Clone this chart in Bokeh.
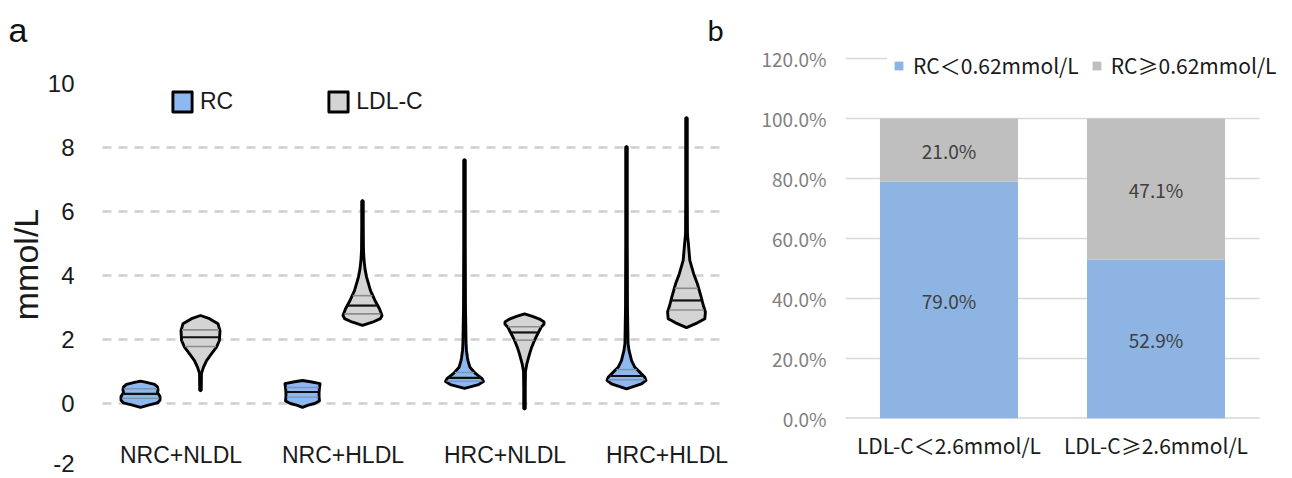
import numpy as np
from bokeh.plotting import figure
from bokeh.models import (Range1d, FixedTicker, Legend, LegendItem,
                          ColumnDataSource, PrintfTickFormatter, CustomJSTickFormatter)
from bokeh.layouts import row
from bokeh.embed import file_html
from bokeh.resources import INLINE
from bokeh.core.properties import value

# ---------------- data: panel a (violin profiles, mmol/L) ----------------
groups = ["NRC+NLDL", "NRC+HLDL", "HRC+NLDL", "HRC+HLDL"]
series = ["RC", "LDL-C"]

# relative density (violin half-width, 1 = widest) at each level
rc_nrc_nldl_y = [-0.12, -0.05, 0.02, 0.10, 0.22, 0.30, 0.34, 0.42, 0.52, 0.60, 0.66, 0.70]
rc_nrc_nldl_d = [0, .41, .87, 1, 1, .92, .87, .90, .87, .72, .31, 0]
rc_nrc_hldl_y = [-0.12, -0.06, 0.00, 0.08, 0.20, 0.35, 0.50, 0.62, 0.68, 0.72]
rc_nrc_hldl_d = [0, .26, .62, .87, .85, .85, .87, .90, .41, 0]
rc_hrc_nldl_y = [0.47, 0.59, 0.69, 0.78, 0.94, 1.13, 1.34, 1.44, 1.66, 1.88, 3.0, 5.0, 7.60, 7.62]
rc_hrc_nldl_d = [0, .72, .97, .90, .56, .28, .18, .15, .10, .08, .05, .04, .04, 0]
rc_hrc_hldl_y = [0.46, 0.61, 0.72, 0.82, 0.98, 1.13, 1.34, 1.66, 1.88, 3.0, 5.0, 8.01, 8.03]
rc_hrc_hldl_d = [0, .77, 1.0, .94, .68, .43, .26, .13, .08, .05, .04, .04, 0]

ldl_nrc_nldl_y = [0.40, 0.42, 0.94, 1.13, 1.34, 1.55, 1.76, 1.97, 2.28, 2.49, 2.65, 2.75]
ldl_nrc_nldl_d = [0, .04, .05, .15, .31, .56, .82, .97, 1.0, .90, .46, 0]
ldl_nrc_hldl_y = [2.44, 2.54, 2.65, 2.75, 2.96, 3.22, 3.53, 3.95, 4.20, 4.47, 4.80, 5.50, 6.32, 6.34]
ldl_nrc_hldl_d = [0, .51, .92, 1, .87, .64, .41, .21, .13, .08, .05, .04, .04, 0]
ldl_hrc_nldl_y = [-0.17, -0.15, 0.5, 1.0, 1.24, 1.55, 1.76, 1.97, 2.18, 2.39, 2.48, 2.55, 2.64, 2.72, 2.80]
ldl_hrc_nldl_d = [0, .04, .04, .05, .12, .26, .37, .51, .68, .86, 1, 1, .77, .41, 0]
ldl_hrc_hldl_y = [2.37, 2.52, 2.65, 2.86, 3.07, 3.33, 3.74, 4.05, 4.47, 4.90, 5.30, 6.50, 8.91, 8.93]
ldl_hrc_hldl_d = [0, .56, .94, .97, .86, .75, .56, .37, .17, .11, .05, .04, .04, 0]

# quartiles [Q1, median, Q3]
rc_quart = [[0.16, 0.30, 0.46], [0.20, 0.36, 0.50], [0.70, 0.80, 0.97], [0.74, 0.86, 1.06]]
ldl_quart = [[1.78, 2.07, 2.30], [2.80, 3.06, 3.37], [1.98, 2.22, 2.40], [2.92, 3.22, 3.60]]

y_ticks_a = [-2, 0, 2, 4, 6, 8, 10]
grid_a = [0, 2, 4, 6, 8]

# ---------------- data: panel b ----------------
ldl_cats = ["LDL-C\uff1c2.6mmol/L", "LDL-C\u22652.6mmol/L"]
rc_low_pct = [79.0, 52.9]
rc_high_pct = [21.0, 47.1]
legend_b = ["RC\uff1c0.62mmol/L", "RC\u22650.62mmol/L"]
y_ticks_b = [0, 20, 40, 60, 80, 100, 120]

# ---------------- styles ----------------
RC_FILL = "#8DB8F0"
LDL_FILL = "#D4D4D4"
BLUE_B = "#8DB4E2"
GRAY_B = "#BFBFBF"
FONT = "Liberation Sans"
CJK = "Noto Sans CJK SC"
PX = 162.0                  # pixels per group on panel a
PY = 32.0                   # pixels per mmol/L on panel a
HALF = 19.5 / PX            # max half-width of a violin (data units)
OFF = 30.0 / PX             # offset of the two violins from group centre
BX = 207.0                  # pixels per category on panel b
BY = 3.0                    # pixels per percent on panel b
EDGE_NUDGE = 0.14           # lift of the bottom tick label so it stays inside the page

rc_profiles = [(rc_nrc_nldl_y, rc_nrc_nldl_d), (rc_nrc_hldl_y, rc_nrc_hldl_d),
               (rc_hrc_nldl_y, rc_hrc_nldl_d), (rc_hrc_hldl_y, rc_hrc_hldl_d)]
ldl_profiles = [(ldl_nrc_nldl_y, ldl_nrc_nldl_d), (ldl_nrc_hldl_y, ldl_nrc_hldl_d),
                (ldl_hrc_nldl_y, ldl_hrc_nldl_d), (ldl_hrc_hldl_y, ldl_hrc_hldl_d)]


def violin(center, ys, ds):
    ys = np.asarray(ys, float)
    w = np.asarray(ds, float) * HALF
    xs = np.concatenate([center + w, (center - w)[::-1]])
    yy = np.concatenate([ys, ys[::-1]])
    return list(xs), list(yy)


def quart_segments(center, ys, ds, qs):
    x0, x1, yv = [], [], []
    for q in qs:
        w = np.interp(q, ys, ds) * HALF * 0.96
        x0.append(center - w); x1.append(center + w); yv.append(q)
    return x0, x1, yv


# ---------------- panel a ----------------
A_W, A_LEFT, A_TOP, H = 730, 100, 50, 478
A_GRID_END = 720
p1 = figure(width=A_W, height=H, output_backend="svg", toolbar_location=None,
            title="a", frame_align=False,
            x_range=Range1d((A_LEFT - 170) / PX, (A_W - 170) / PX),
            y_range=Range1d((403 - H) / PY, (403 - A_TOP) / PY),
            min_border_left=A_LEFT, min_border_right=0, min_border_top=A_TOP,
            min_border_bottom=0, x_axis_location=None)
p1.title.align = "left"
p1.title.offset = 8 - A_LEFT
p1.title.text_font = FONT
p1.title.text_font_size = "34px"
p1.title.text_font_style = "normal"
p1.title.text_color = "#111111"
p1.title.standoff = 4
p1.outline_line_color = None
p1.xgrid.visible = False
p1.ygrid.visible = False
# dashed horizontal gridlines
p1.segment(x0=[(A_LEFT + 2 - 170) / PX] * len(grid_a), y0=grid_a,
           x1=[(A_GRID_END - 170) / PX] * len(grid_a), y1=grid_a,
           line_color="#CFCFCF", line_width=2.5, line_dash="9 7")

tick_pos = [t + EDGE_NUDGE if t == min(y_ticks_a) else t for t in y_ticks_a]
ax = p1.yaxis[0]
ax.ticker = FixedTicker(ticks=tick_pos)
ax.major_label_overrides = {tp: str(t) for tp, t in zip(tick_pos, y_ticks_a)}
ax.axis_line_color = None
ax.major_tick_line_color = None
ax.minor_tick_line_color = None
ax.major_label_text_font = FONT
ax.major_label_text_font_size = "24px"
ax.major_label_text_color = "#1a1a1a"
ax.major_label_standoff = 20
ax.axis_label = "mmol/L"
ax.axis_label_text_font = FONT
ax.axis_label_text_font_size = "34px"
ax.axis_label_text_font_style = "normal"
ax.axis_label_text_color = "#1a1a1a"
ax.axis_label_standoff = 0

rc_xs, rc_ys, ldl_xs, ldl_ys = [], [], [], []
med_x0, med_x1, med_y = [], [], []
rq_x0, rq_x1, rq_y = [], [], []
lq_x0, lq_x1, lq_y = [], [], []
for i in range(len(groups)):
    ys, ds = rc_profiles[i]
    xs, yy = violin(i - OFF, ys, ds)
    rc_xs.append(xs); rc_ys.append(yy)
    a0, a1, av = quart_segments(i - OFF, ys, ds, rc_quart[i])
    rq_x0 += [a0[0], a0[2]]; rq_x1 += [a1[0], a1[2]]; rq_y += [av[0], av[2]]
    med_x0.append(a0[1]); med_x1.append(a1[1]); med_y.append(av[1])

    ys, ds = ldl_profiles[i]
    xs, yy = violin(i + OFF, ys, ds)
    ldl_xs.append(xs); ldl_ys.append(yy)
    a0, a1, av = quart_segments(i + OFF, ys, ds, ldl_quart[i])
    lq_x0 += [a0[0], a0[2]]; lq_x1 += [a1[0], a1[2]]; lq_y += [av[0], av[2]]
    med_x0.append(a0[1]); med_x1.append(a1[1]); med_y.append(av[1])

r_rc = p1.patches(rc_xs, rc_ys, fill_color=RC_FILL, line_color="black", line_width=2.9,
                  line_join="round")
r_ldl = p1.patches(ldl_xs, ldl_ys, fill_color=LDL_FILL, line_color="black", line_width=2.9,
                   line_join="round")
p1.segment(rq_x0, rq_y, rq_x1, rq_y, line_color="#7D93AE", line_width=1.4)
p1.segment(lq_x0, lq_y, lq_x1, lq_y, line_color="#8C8C8C", line_width=1.6)
p1.segment(med_x0, med_y, med_x1, med_y, line_color="#111111", line_width=2.2)

# category labels of panel a
p1.text(x=[i + 0.065 for i in range(len(groups))], y=[(403 - 454) / PY] * len(groups),
        text=groups, text_align="center", text_baseline="middle",
        text_font=value(FONT), text_font_size="23px", text_color="#1a1a1a")

leg_a = Legend(items=[LegendItem(label=series[0], renderers=[r_rc]),
                      LegendItem(label=series[1], renderers=[r_ldl])],
               location=(70, H - 115), orientation="horizontal", padding=0, margin=0,
               spacing=93, label_standoff=6, glyph_width=24, glyph_height=25,
               label_height=25, label_text_font=FONT, label_text_font_size="23px",
               label_text_color="#1a1a1a", background_fill_alpha=0,
               border_line_alpha=0)
p1.add_layout(leg_a)

# ---------------- panel b ----------------
B_X0, B_LEFT, B_TOP, B_BOTTOM = 705, 845, 48, 418
B_W = 1292 - B_X0
n = len(ldl_cats)
xc = [i + 0.5 for i in range(n)]
src = ColumnDataSource(dict(x=xc, low=rc_low_pct, high=rc_high_pct,
                            low_mid=[v / 2 for v in rc_low_pct],
                            high_mid=[a + b / 2 for a, b in zip(rc_low_pct, rc_high_pct)],
                            low_txt=["%.1f%%" % v for v in rc_low_pct],
                            high_txt=["%.1f%%" % v for v in rc_high_pct]))

p2 = figure(width=B_W, height=H, output_backend="svg", toolbar_location=None,
            title="b", frame_align=False,
            x_range=Range1d(0, (1292 - B_LEFT) / BX),
            y_range=Range1d(0, (B_BOTTOM - B_TOP) / BY),
            min_border_left=B_LEFT - B_X0, min_border_right=0,
            min_border_top=B_TOP, min_border_bottom=H - B_BOTTOM,
            margin=(0, 0, 0, B_X0 - A_W))
p2.background_fill_color = None
p2.border_fill_color = None
p2.title.align = "left"
p2.title.offset = 707 - B_LEFT
p2.title.text_font = "Lato"
p2.title.text_font_size = "29px"
p2.title.text_font_style = "normal"
p2.title.text_color = "#111111"
p2.title.standoff = 4
p2.outline_line_color = None
p2.xgrid.visible = False
p2.ygrid.visible = False

# horizontal gridlines and baseline spanning the categories
p2.segment(x0=[0] * (len(y_ticks_b) - 1), y0=y_ticks_b[1:], x1=[n] * (len(y_ticks_b) - 1),
           y1=y_ticks_b[1:], line_color="#D9D9D9", line_width=1.4)
p2.segment(x0=[0], y0=[0], x1=[n], y1=[0], line_color="#BFBFBF", line_width=1.8)

bars = p2.vbar_stack(["low", "high"], x="x", width=0.667, color=[BLUE_B, GRAY_B],
                     line_color=None, source=src)

p2.text(x="x", y="low_mid", text="low_txt", source=src, text_align="center",
        text_baseline="middle", text_font=value(CJK), text_font_size="19px", text_color="#404040")
p2.text(x="x", y="high_mid", text="high_txt", source=src, text_align="center",
        text_baseline="middle", text_font=value(CJK), text_font_size="19px", text_color="#404040")

ya = p2.yaxis[0]
ya.ticker = FixedTicker(ticks=y_ticks_b)
ya.formatter = PrintfTickFormatter(format="%.1f%%")
ya.axis_line_color = None
ya.major_tick_line_color = None
ya.minor_tick_line_color = None
ya.major_label_text_font = CJK
ya.major_label_text_font_size = "19px"
ya.major_label_text_color = "#808080"
ya.major_label_standoff = 13

xa = p2.xaxis[0]
xa.ticker = FixedTicker(ticks=xc)
xa.formatter = CustomJSTickFormatter(args=dict(labels=ldl_cats),
                                     code="return labels[Math.round(tick - 0.5)] || '';")
xa.axis_line_color = None
xa.major_tick_line_color = None
xa.minor_tick_line_color = None
xa.major_label_text_font = CJK
xa.major_label_text_font_size = "21px"
xa.major_label_text_color = "#1a1a1a"
xa.major_label_standoff = 5

leg_b = Legend(items=[LegendItem(label=legend_b[0], renderers=[bars[0]]),
                      LegendItem(label=legend_b[1], renderers=[bars[1]])],
               location=(42, B_BOTTOM - 86), orientation="horizontal", padding=6, margin=0,
               spacing=12, label_standoff=9, glyph_width=11, glyph_height=11,
               label_height=24, label_text_font=CJK, label_text_font_size="21px",
               label_text_color="#1a1a1a", background_fill_color="white",
               background_fill_alpha=1, border_line_alpha=0)
p2.add_layout(leg_b)

layout = row(p1, p2, spacing=0)
open("out.html", "w").write(file_html(layout, INLINE))
